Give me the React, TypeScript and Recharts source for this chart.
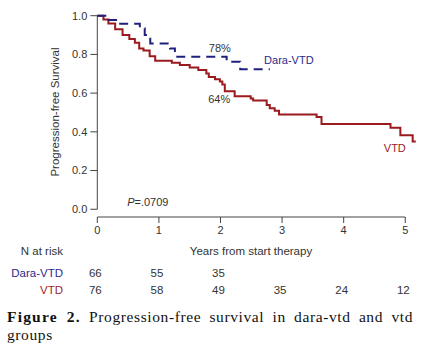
import {
  LineChart,
  Line,
  XAxis,
  YAxis,
  ReferenceLine,
  ReferenceDot,
} from 'recharts';

// Kaplan-Meier steps (time in years, survival after the step)
const vtdTime = [0, 0.1, 0.18, 0.29, 0.41, 0.52, 0.61, 0.68, 0.75, 0.85, 0.94, 1.21, 1.34, 1.5, 1.64, 1.77, 1.81, 1.91, 1.99, 2.03, 2.07, 2.23, 2.49, 2.53, 2.75, 2.8, 2.88, 2.95, 3.56, 3.64, 4.76, 4.92, 5.12, 5.17];
const vtdSurv = [1, 0.98, 0.96, 0.93, 0.9, 0.88, 0.86, 0.83, 0.82, 0.79, 0.767, 0.757, 0.745, 0.733, 0.719, 0.702, 0.683, 0.672, 0.66, 0.645, 0.61, 0.584, 0.572, 0.562, 0.538, 0.522, 0.509, 0.49, 0.476, 0.441, 0.421, 0.383, 0.35, 0.35];

const daraTime = [0, 0.18, 0.34, 0.69, 0.77, 0.86, 1.18, 1.26, 2.1, 2.32, 2.8];
const daraSurv = [1, 0.978, 0.958, 0.935, 0.9, 0.857, 0.83, 0.788, 0.762, 0.723, 0.723];

const xTicks = [0, 1, 2, 3, 4, 5];
const yTicks = [0, 0.2, 0.4, 0.6, 0.8, 1.0];

const riskYears = [0, 1, 2, 3, 4, 5];
const riskDara = [66, 55, 35];
const riskVtd = [76, 58, 49, 35, 24, 12];

const RED = '#9a1a1e';
const NAVY = '#1f1f7e';
const AXIS = '#444';
const TXT = '#333';
const SANS = '"Liberation Sans", Arial, sans-serif';

// pixel position of the year ticks, used only to line up the risk table text
const X0 = 97.3;
const XS = 61.6;

const vtdData = vtdTime.map((t, i) => ({ t, s: vtdSurv[i] }));
const daraData = daraTime.map((t, i) => ({ t, s: daraSurv[i] }));

export default function App() {
  const abs = (left: number, top: number, extra: any = {}) => ({
    position: 'absolute' as const,
    left,
    top,
    whiteSpace: 'nowrap' as const,
    ...extra,
  });

  return (
    <div style={{ position: 'absolute', left: 0, top: 0, width: 425, height: 350, background: '#fff', fontFamily: SANS, color: TXT, fontSize: 11.5 }}>
      <LineChart
        width={425}
        height={240}
        margin={{ top: 15.7, right: 7.4, left: 57.3, bottom: 0 }}
        style={{ fontFamily: SANS }}
      >
        <XAxis
          type="number"
          dataKey="t"
          domain={[0, 5.2]}
          ticks={xTicks}
          axisLine={false}
          stroke={AXIS}
          tickSize={6}
          tickMargin={3}
          height={23}
          tick={{ fill: TXT, fontSize: 11 }}
        />
        <YAxis
          type="number"
          domain={[-0.04, 1]}
          ticks={yTicks}
          axisLine={false}
          stroke={AXIS}
          tickSize={7}
          tickMargin={3}
          width={40}
          tickFormatter={(v) => v.toFixed(1)}
          tick={{ fill: TXT, fontSize: 11 }}
        />
        <ReferenceLine segment={[{ x: 0, y: 0 }, { x: 0, y: 1 }]} stroke={AXIS} ifOverflow="visible" />
        <ReferenceLine segment={[{ x: 0, y: -0.04 }, { x: 5, y: -0.04 }]} stroke={AXIS} ifOverflow="visible" />

        <Line data={vtdData} dataKey="s" type="stepAfter" stroke={RED} strokeWidth={2} dot={false} isAnimationActive={false} />
        <Line data={daraData} dataKey="s" type="stepAfter" stroke={NAVY} strokeWidth={2} strokeDasharray="9 6" dot={false} isAnimationActive={false} />

        <ReferenceDot x={1.99} y={0.833} r={0} fill="none" stroke="none" label={{ value: '78%', position: 'center', fill: TXT, fontSize: 11 }} />
        <ReferenceDot x={3.11} y={0.772} r={0} fill="none" stroke="none" label={{ value: 'Dara-VTD', position: 'center', fill: '#2b2b8c', fontSize: 11 }} />
        <ReferenceDot x={1.98} y={0.57} r={0} fill="none" stroke="none" label={{ value: '64%', position: 'center', fill: TXT, fontSize: 11 }} />
        <ReferenceDot x={4.83} y={0.318} r={0} fill="none" stroke="none" label={{ value: 'VTD', position: 'center', fill: RED, fontSize: 11 }} />
        <ReferenceDot
          x={0.82}
          y={0.04}
          r={0}
          fill="none"
          stroke="none"
          label={(p: any) => (
            <text x={p.viewBox.x} y={p.viewBox.y} textAnchor="middle" dominantBaseline="central" fill={TXT} fontSize={11}>
              <tspan fontStyle="italic">P</tspan>=.0709
            </text>
          )}
        />
      </LineChart>

      {/* y axis title */}
      <div style={abs(55, 112, { transform: 'translate(-50%, -50%) rotate(-90deg)', fontSize: 11.5 })}>
        Progression-free Survival
      </div>

      {/* x axis title */}
      <div style={abs(251, 251, { transform: 'translate(-50%, -50%)' })}>Years from start therapy</div>

      {/* number at risk table */}
      <div style={abs(63, 251, { transform: 'translate(-100%, -50%)' })}>N at risk</div>
      <div style={abs(63, 273, { transform: 'translate(-100%, -50%)', color: '#2b2b8c' })}>Dara-VTD</div>
      <div style={abs(63, 290, { transform: 'translate(-100%, -50%)', color: '#a0262a' })}>VTD</div>
      {riskDara.map((n, i) => (
        <div key={'d' + i} style={abs(X0 + riskYears[i] * XS - 2, 273, { transform: 'translate(-50%, -50%)' })}>{n}</div>
      ))}
      {riskVtd.map((n, i) => (
        <div key={'v' + i} style={abs(X0 + riskYears[i] * XS - 2, 290, { transform: 'translate(-50%, -50%)' })}>{n}</div>
      ))}

      {/* caption, first line stretched like the justified original */}
      <div
        style={{
          position: 'absolute',
          left: 7,
          top: 308,
          width: 406,
          fontFamily: '"Liberation Serif", "Times New Roman", serif',
          fontSize: 15.5,
          lineHeight: '18px',
          letterSpacing: 0.6,
          color: '#111',
        }}
      >
        <div style={{ textAlign: 'justify', textAlignLast: 'justify', whiteSpace: 'nowrap' }}>
          <b style={{ letterSpacing: 1.2 }}>Figure 2.</b> Progression-free survival in dara-vtd and vtd
        </div>
        <div>groups</div>
      </div>
    </div>
  );
}
